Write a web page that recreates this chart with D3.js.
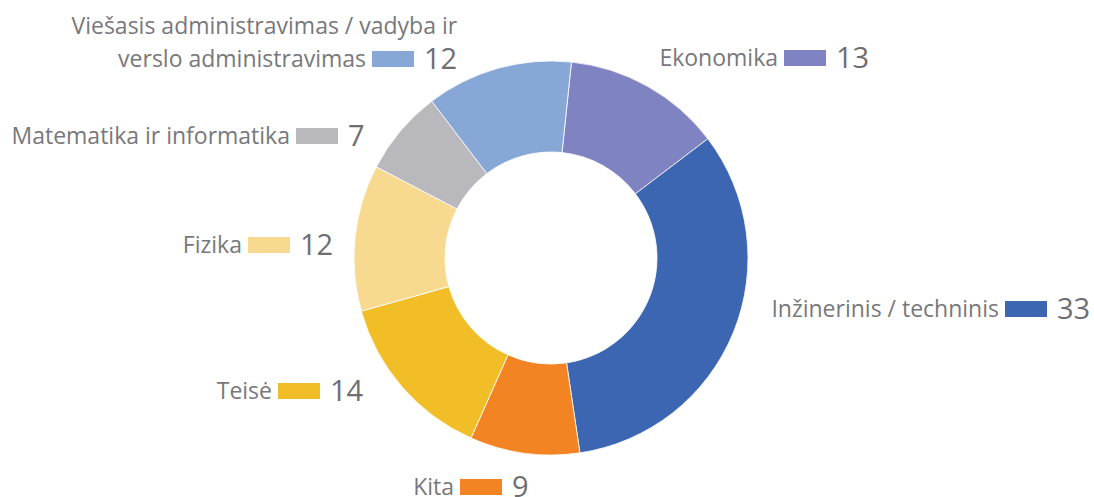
<!DOCTYPE html>
<html>
<head>
<meta charset="utf-8">
<script src="https://cdn.jsdelivr.net/npm/d3@7"></script>
<style>
  body { margin: 0; background: #fff; }
  svg { display: block; }
</style>
</head>
<body>
<svg id="chart" width="1094" height="497"></svg>
<script>
// data
var categories = ["Ekonomika", "Inžinerinis / techninis", "Kita", "Teisė", "Fizika",
                  "Matematika ir informatika", "Viešasis administravimas / vadyba ir\nverslo administravimas"];
var values = [13, 33, 9, 14, 12, 7, 12];
var colors = ["#7f83c1", "#3c66b1", "#f38423", "#f2be27", "#f7d990", "#b9b8bd", "#87a8d7"];

// where each label's colour key sits, relative to the donut centre
var labelOffsets = [[254, -200], [475, 51], [-70, 229], [-252, 133], [-282, -13], [-234, -122], [-158, -199]];

var svg = d3.select("#chart"),
    cx = 551, cy = 258,
    outerR = 197, innerR = 106;

var data = categories.map(function (c, i) { return { name: c, value: values[i], color: colors[i], off: labelOffsets[i] }; });

var pie = d3.pie()
    .sort(null)
    .value(function (d) { return d.value; })
    .startAngle(0.104)
    .endAngle(0.104 + 2 * Math.PI);

var arc = d3.arc().innerRadius(innerR).outerRadius(outerR);

var g = svg.append("g").attr("transform", "translate(" + cx + "," + cy + ")");

g.selectAll("path.slice")
    .data(pie(data))
    .enter()
    .append("path")
    .attr("class", "slice")
    .attr("d", arc)
    .style("fill", function (d) { return d.data.color; })
    .style("stroke", "#fff")
    .style("stroke-width", 0.8);

// labels: text, key rect, value
var keyW = 42, keyH = 16;
var labels = g.selectAll("g.lbl")
    .data(data)
    .enter()
    .append("g")
    .attr("class", "lbl")
    .attr("transform", function (d) { return "translate(" + d.off[0] + "," + d.off[1] + ")"; });

labels.append("rect")
    .attr("x", -keyW / 2)
    .attr("y", -keyH / 2)
    .attr("width", keyW)
    .attr("height", keyH)
    .style("fill", function (d) { return d.color; });

labels.append("text")
    .attr("class", "num")
    .attr("x", keyW / 2 + 10)
    .attr("dy", "0.36em")
    .style("font-family", "'Open Sans', sans-serif")
    .style("font-size", "29px")
    .style("fill", "#6e6e72")
    .text(function (d) { return d.value; });

labels.each(function (d) {
    var lg = d3.select(this);
    var lines = d.name.split("\n");
    var numRight = keyW / 2 + 10 + lg.select("text.num").node().getComputedTextLength();
    lines.forEach(function (line, i) {
        var last = i === lines.length - 1;
        lg.append("text")
            .attr("x", last ? -keyW / 2 - 6 : numRight)
            .attr("y", (i - (lines.length - 1)) * 33)
            .attr("dy", "0.35em")
            .attr("text-anchor", "end")
            .style("font-family", "'Open Sans', sans-serif")
            .style("font-size", "23px")
            .style("fill", "#78787c")
            .text(line);
    });
});
</script>
</body>
</html>
